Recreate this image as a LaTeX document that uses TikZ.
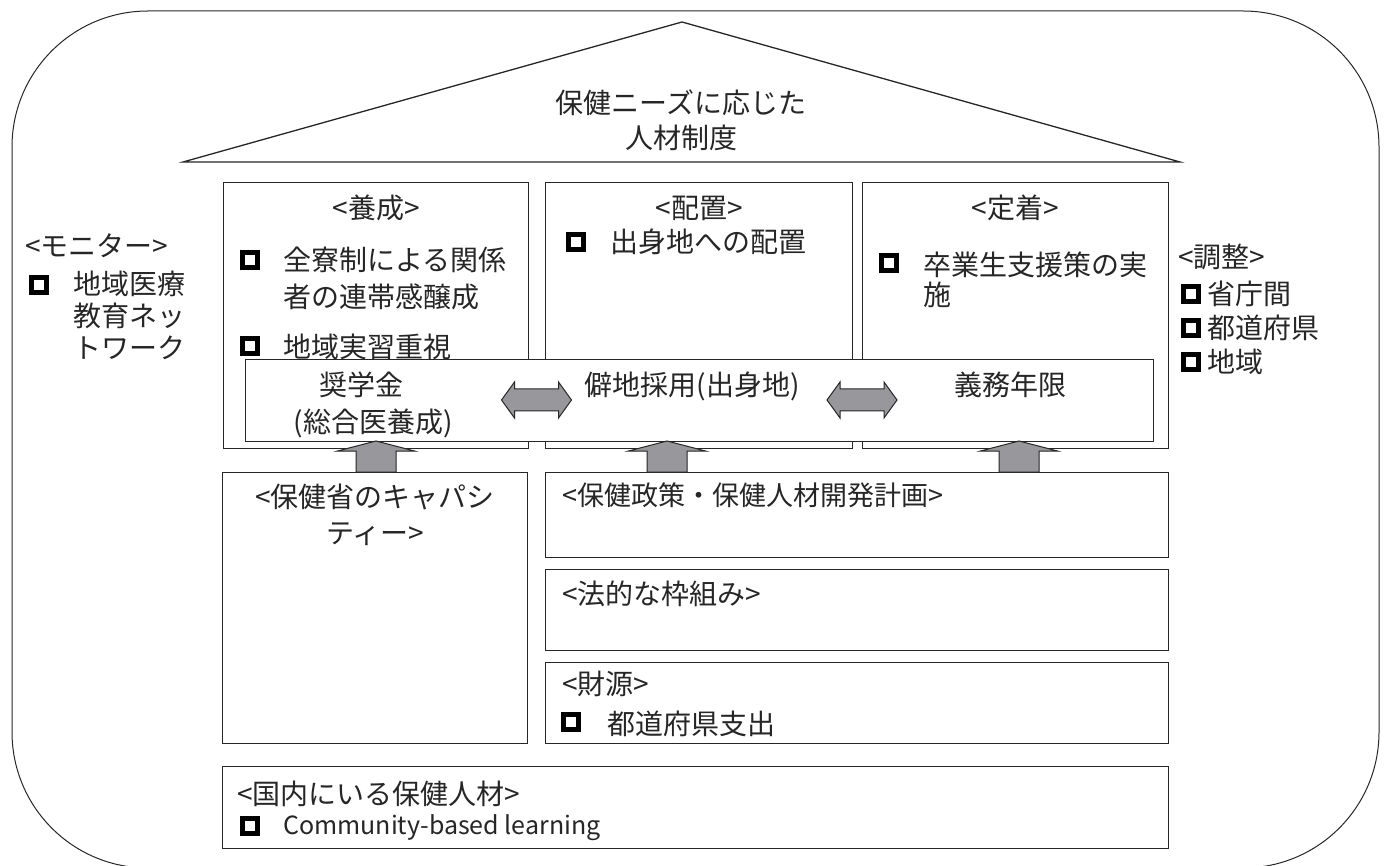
\documentclass[tikz,border=0pt]{standalone}
\usepackage{fontspec}
\setmainfont{Noto Sans CJK JP}
\definecolor{arrgray}{RGB}{152,152,156}
\definecolor{ink}{RGB}{38,38,38}
\newcommand\jpsize{\fontsize{28}{34}\selectfont}
\newcommand\lasize{\fontsize{25}{30}\selectfont}
\tikzset{
  box/.style={draw=ink, line width=1.3, fill=white, inner sep=0, anchor=north west},
  txt/.style={inner sep=0, text=ink, font=\jpsize},
  mk/.style={draw=black, line width=5.3, minimum size=15, inner sep=0},
  arrsty/.style={fill=arrgray, draw=ink, line width=1},
  uparr/.pic={\filldraw[arrsty] (-20,0) -- (-20,-21) -- (-38.5,-21) -- (0,-31) -- (38.5,-21) -- (20,-21) -- (20,0) -- cycle;},
  dblarr/.pic={\filldraw[arrsty] (-35,0) -- (-22,-18) -- (-22,-11) -- (22,-11) -- (22,-18) -- (35,0) -- (22,18) -- (22,11) -- (-22,11) -- (-22,18) -- cycle;}
}
\begin{document}
\begin{tikzpicture}[x=1pt,y=-1pt]
\useasboundingbox (0,0) rectangle (1387,866);
% outer frame and roof
\draw[draw=ink, line width=1] [rounded corners=136] (12,11) rectangle (1379,868);
\coordinate (roofL) at (183,162);
\coordinate (roofT) at (682,22);
\coordinate (roofR) at (1180,162);
\draw[draw=ink, line width=1.3] (roofL) -- (roofT) -- (roofR) -- cycle;
\node[txt, anchor=base] (need1) at (681,113.5) {保健ニーズに応じた};
\node[txt, anchor=base] (need2) at (681,148.5) {人材制度};

% top three boxes
\node[box, minimum width=305, minimum height=266] (yosei) at (223,182) {};
\node[box, minimum width=307, minimum height=266] (haichi) at (545,182) {};
\node[box, minimum width=306, minimum height=266] (teichaku) at (862,182) {};

\node[txt, anchor=base] (yoseiT) at (376,218.5) {<養成>};
\node[mk] (ym1) at (250,260) {};
\node[txt, anchor=base west] (y1a) at (283,271) {全寮制による関係};
\node[txt, anchor=base west] (y1b) at (283,308) {者の連帯感醸成};
\node[mk] (ym2) at (250,346) {};
\node[txt, anchor=base west] (y2) at (283,357.5) {地域実習重視};

\node[txt, anchor=base] (haichiT) at (699,219) {<配置>};
\node[mk] (hm1) at (576,242) {};
\node[txt, anchor=base west] (h1) at (610,253) {出身地への配置};

\node[txt, anchor=base] (teichakuT) at (1015,219) {<定着>};
\node[mk] (tm1) at (889,263) {};
\node[txt, anchor=base west] (t1a) at (923,276) {卒業生支援策の実};
\node[txt, anchor=base west] (t1b) at (923,305.5) {施};

% overlay box
\node[box, minimum width=908, minimum height=82] (overlay) at (245,359) {};
\node[txt, anchor=base] (shogaku1) at (361,395.5) {奨学金};
\node[txt, anchor=base] (shogaku2) at (373,432) {(総合医養成)};
\node[txt, anchor=base] (hekichi) at (692,396) {僻地採用(出身地)};
\node[txt, anchor=base] (gimu) at (1010,395.5) {義務年限};
\coordinate (d1) at (536.5,400);
\coordinate (d2) at (862,400);
\pic at (d1) {dblarr};
\pic at (d2) {dblarr};

% lower boxes
\node[box, minimum width=305, minimum height=271] (kyapa) at (222,472) {};
\node[box, minimum width=623, minimum height=85] (seisaku) at (545,472) {};
\node[box, minimum width=623, minimum height=81] (houteki) at (545,569) {};
\node[box, minimum width=623, minimum height=81] (zaigen) at (545,662) {};
\node[box, minimum width=946, minimum height=82] (kokunai) at (222,766) {};

\node[txt, anchor=base] (kyapa1) at (375,507.5) {<保健省のキャパシ};
\node[txt, anchor=base] (kyapa2) at (375,543.5) {ティー>};
\node[txt, anchor=base west, font=\fontsize{27}{33}\selectfont] (seisakuT) at (562,505.5) {<保健政策・保健人材開発計画>};
\node[txt, anchor=base west] (houtekiT) at (562,604) {<法的な枠組み>};
\node[txt, anchor=base west] (zaigenT) at (562,694) {<財源>};
\node[mk] (zm1) at (571,722) {};
\node[txt, anchor=base west] (z1) at (607,734) {都道府県支出};
\node[txt, anchor=base west] (kokunaiT) at (237,804.5) {<国内にいる保健人材>};
\node[mk] (km1) at (250,826) {};
\node[txt, anchor=base west, font=\lasize] (k1) at (283,834) {Community-based learning};

% up arrows
\coordinate (u1) at (kyapa.north -| 376,0);
\coordinate (u2) at (seisaku.north -| 667,0);
\coordinate (u3) at (seisaku.north -| 1019,0);
\pic at (u1) {uparr};
\pic at (u2) {uparr};
\pic at (u3) {uparr};

% left side
\node[txt, anchor=base west] (monT) at (25,256.5) {<モニター>};
\node[mk] (mm1) at (39,285) {};
\node[txt, anchor=base west] (mon1) at (73,294.5) {地域医療};
\node[txt, anchor=base west] (mon2) at (73,326.5) {教育ネッ};
\node[txt, anchor=base west] (mon3) at (73,359) {トワーク};

% right side
\node[txt, anchor=base west] (choT) at (1178,267.5) {<調整>};
\node[mk] (cm1) at (1191,294) {};
\node[txt, anchor=base west] (cho1) at (1207,304.5) {省庁間};
\node[mk] (cm2) at (1191,328) {};
\node[txt, anchor=base west] (cho2) at (1207,338.5) {都道府県};
\node[mk] (cm3) at (1191,362) {};
\node[txt, anchor=base west] (cho3) at (1207,372.5) {地域};
\end{tikzpicture}
\end{document}
